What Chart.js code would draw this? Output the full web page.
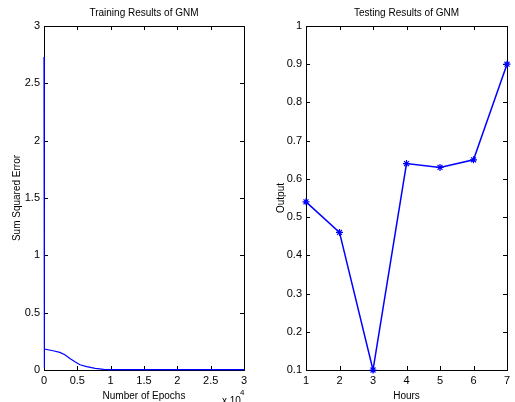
<!DOCTYPE html>
<html>
<head>
<meta charset="utf-8">
<script src="https://cdn.jsdelivr.net/npm/chart.js@4.4.0/dist/chart.umd.min.js"></script>
<style>
  body { margin: 0; background: #fff; }
  #wrap { position: relative; width: 515px; height: 402px; overflow: hidden; }
  canvas { position: absolute; top: 0; }
</style>
</head>
<body>
<div id="wrap">
  <canvas id="training" style="left:0"></canvas>
  <canvas id="testing" style="left:260px"></canvas>
</div>
<script>
// training curve (epochs, sum squared error)
const epochs = [0, 20, 60, 100, 1360, 2370, 3130, 3890, 4640, 5400, 6400, 7680, 8940, 10000, 15000, 20000, 30000];
const sse    = [2.73, 0.02, 0.6, 0.183, 0.168, 0.154, 0.133, 0.101, 0.072, 0.046, 0.029, 0.0145, 0.006, 0.003, 0.003, 0.003, 0.003];

// testing results
const hours  = [1, 2, 3, 4, 5, 6, 7];
const output = [0.54, 0.46, 0.10, 0.64, 0.63, 0.65, 0.90];

const FONT = 'Liberation Sans, Arial, sans-serif';
const BLUE = '#0000ff';

// matlab style box with inward ticks on all four sides
const boxTicks = {
  id: 'boxTicks',
  beforeDatasetsDraw(chart) {
    const {ctx, chartArea: a, scales: {x, y}} = chart;
    ctx.save();
    ctx.strokeStyle = '#000';
    ctx.lineWidth = 1;
    ctx.strokeRect(Math.round(a.left) + 0.5, Math.round(a.top) + 0.5,
                   Math.round(a.right - a.left), Math.round(a.bottom - a.top));
    ctx.beginPath();
    x.ticks.forEach(t => {
      const px = Math.round(x.getPixelForValue(t.value)) + 0.5;
      ctx.moveTo(px, a.bottom); ctx.lineTo(px, a.bottom - 4);
      ctx.moveTo(px, a.top); ctx.lineTo(px, a.top + 4);
    });
    y.ticks.forEach(t => {
      const py = Math.round(y.getPixelForValue(t.value)) + 0.5;
      ctx.moveTo(a.left, py); ctx.lineTo(a.left + 4, py);
      ctx.moveTo(a.right, py); ctx.lineTo(a.right - 4, py);
    });
    ctx.stroke();
    ctx.restore();
  },
  afterDraw(chart, args, opts) {
    const {ctx, chartArea: a} = chart;
    ctx.save();
    ctx.fillStyle = '#000';
    ctx.font = '10px ' + FONT;
    ctx.textAlign = 'center';
    ctx.textBaseline = 'middle';
    ctx.fillText(opts.title, (a.left + a.right) / 2, 13);
    if (opts.exponent) {
      ctx.textAlign = 'left';
      ctx.textBaseline = 'alphabetic';
      ctx.fillText('x 10', a.right - 22, 404);
      ctx.font = '8px ' + FONT;
      ctx.fillText('4', a.right - 4, 395);
    }
    ctx.restore();
  }
};

const tickFont = { family: FONT, size: 11 };
const labelFont = { family: FONT, size: 10 };

function makeChart(id, w, pad, yWidth, xs, ys, cfg) {
  const el = document.getElementById(id);
  el.width = w; el.height = 402;
  new Chart(el, {
    type: 'line',
    data: {
      datasets: [{
        data: xs.map((v, i) => ({x: v, y: ys[i]})),
        borderColor: BLUE,
        backgroundColor: BLUE,
        borderWidth: cfg.lineWidth,
        pointStyle: cfg.points ? 'star' : false,
        pointRadius: cfg.points ? 3.5 : 0,
        pointBorderWidth: 1.2,
        tension: 0,
        clip: false
      }]
    },
    options: {
      responsive: false,
      animation: false,
      events: [],
      layout: { padding: { top: 26, right: pad, left: 0, bottom: 0 } },
      plugins: {
        legend: { display: false },
        tooltip: { enabled: false },
        boxTicks: { title: cfg.title, exponent: cfg.exponent }
      },
      scales: {
        x: {
          type: 'linear', min: cfg.xMin, max: cfg.xMax,
          grid: { drawOnChartArea: false, drawTicks: false },
          border: { display: false },
          ticks: { color: '#000', font: tickFont, padding: 4, stepSize: cfg.xStep, callback: cfg.xFmt },
          afterFit(s) { s.height = 32; },
          title: { display: true, text: cfg.xTitle, color: '#000',
                   font: labelFont, padding: { top: 2, bottom: 0 } }
        },
        y: {
          type: 'linear', min: cfg.yMin, max: cfg.yMax,
          grid: { drawOnChartArea: false, drawTicks: false },
          border: { display: false },
          ticks: { color: '#000', font: tickFont, padding: 4, stepSize: cfg.yStep,
                   callback: v => String(+v.toFixed(1)) },
          afterFit(s) { s.width = yWidth; },
          title: { display: true, text: cfg.yTitle, color: '#000',
                   font: labelFont, padding: { top: cfg.yTitlePad, bottom: 0 } }
        }
      }
    },
    plugins: [boxTicks]
  });
}

makeChart('training', 260, 16, 44, epochs, sse, {
  title: 'Training Results of GNM',
  xTitle: 'Number of Epochs',
  yTitle: 'Sum Squared Error',
  yTitlePad: 11,
  exponent: true,
  lineWidth: 1.2,
  points: false,
  xMin: 0, xMax: 30000, xStep: 5000, xFmt: v => String(v / 10000),
  yMin: 0, yMax: 3, yStep: 0.5
});

makeChart('testing', 255, 8, 46, hours, output, {
  title: 'Testing Results of GNM',
  xTitle: 'Hours',
  yTitle: 'Output',
  yTitlePad: 15,
  exponent: false,
  lineWidth: 1.5,
  points: true,
  xMin: 1, xMax: 7, xStep: 1, xFmt: v => String(v),
  yMin: 0.1, yMax: 1, yStep: 0.1
});
</script>
</body>
</html>
